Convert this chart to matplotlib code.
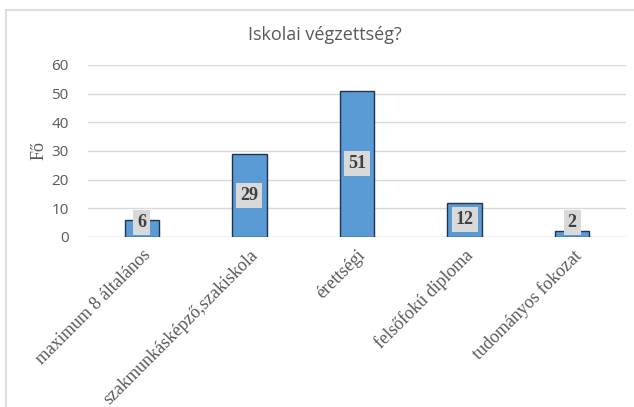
import numpy as np
import matplotlib
matplotlib.use("Agg")
import matplotlib.pyplot as plt
from matplotlib.lines import Line2D

kategoriak = ['maximum 8 általános', 'szakmunkásképző,szakiskola', 'érettségi',
              'felsőfokú diploma', 'tudományos fokozat']
ertekek = [6, 29, 51, 12, 2]

szurke = '#595959'
fig = plt.figure(figsize=(6.34, 4.07), dpi=100)
ax = fig.add_axes([88/634, 1-237/407, (626-88)/634, (237-65)/407])

x = np.arange(len(kategoriak))
ax.bar(x, ertekek, width=0.32, color='#5b9bd5', edgecolor='#1f3350', linewidth=1.0, zorder=3)

# feliratok a oszlopok kozepen, de nem lejjebb mint ~5.2
for xi, v in zip(x, ertekek):
    ypos = max(v / 2, 5.2)
    ax.text(xi, ypos, str(v), ha='center', va='center', fontsize=13, fontweight='bold',
            family='Liberation Serif', color='#404040', zorder=4,
            bbox=dict(boxstyle='square,pad=0.22', facecolor='#d9d9d9', edgecolor='none'))

ax.set_xlim(-0.5, 4.5)
ax.set_ylim(0, 60)
ax.set_yticks(range(0, 61, 10))
ax.set_xticks(x)
ax.set_xticklabels(kategoriak, rotation=45, ha='right', rotation_mode='anchor',
                   family='Liberation Serif', fontsize=13, color=szurke)
for lab in ax.get_yticklabels():
    lab.set_family('Open Sans')
    lab.set_fontsize(11)
    lab.set_color(szurke)
ax.tick_params(axis='both', length=0)
ax.tick_params(axis='y', pad=14)
ax.tick_params(axis='x', pad=7)
ax.grid(axis='y', color='#d9d9d9', linewidth=1, zorder=0)
for s in ax.spines.values():
    s.set_visible(False)
ax.axhline(0, color='#d9d9d9', linewidth=1, zorder=2)

ax.set_ylabel('Fő', family='Liberation Serif', fontsize=13, color=szurke)
ax.yaxis.set_label_coords(-40/538, 0.5)

fig.text(325/634, 1-35/407, 'Iskolai végzettség?', ha='center', va='center',
         family='Open Sans', fontsize=13, color=szurke)

# keret
fig.add_artist(Line2D([6/634, 6/634], [0, 1-10/407], color='#d9d9d9', linewidth=1.2))
fig.add_artist(Line2D([6/634, 1], [1-10/407, 1-10/407], color='#d9d9d9', linewidth=1.2))

fig.savefig('out.png', dpi=100)
